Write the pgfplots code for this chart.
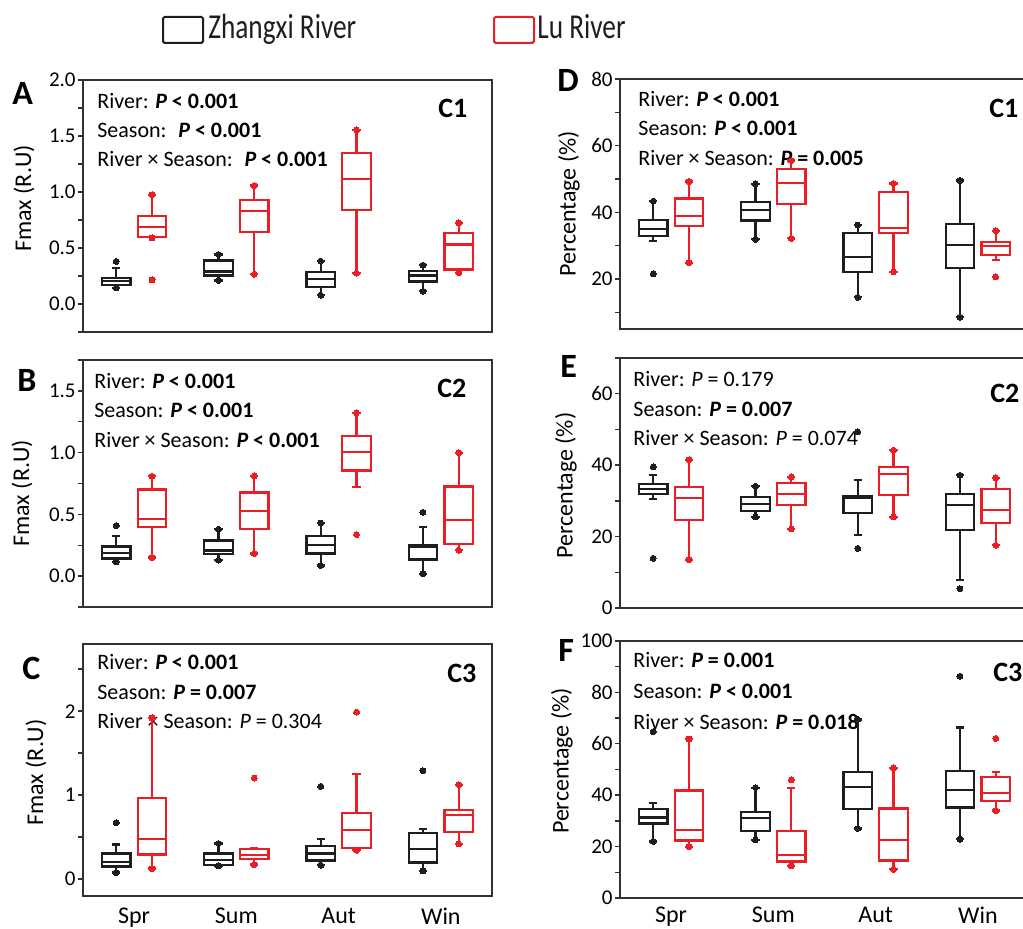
\documentclass[border=0pt]{standalone}
\usepackage{pgfplots}
\pgfplotsset{compat=1.18}
\usepgfplotslibrary{statistics}
\usepackage{fontspec}
\setmainfont{Carlito}
\definecolor{lured}{RGB}{235,30,37}
\definecolor{zxblack}{RGB}{30,30,30}
\definecolor{framec}{RGB}{50,50,50}
\newcommand{\bx}[8]{\addplot[draw=#1, line width=1.1pt, mark=*, mark size=1.5pt, mark options={fill=#1,draw=#1,line width=0pt,solid}, boxplot prepared={draw direction=y, draw position=#2, lower whisker=#3, lower quartile=#4, median=#5, upper quartile=#6, upper whisker=#7}] coordinates {#8};}
\pgfplotsset{
 mybox/.style={
  scale only axis, width=204.5pt, anchor=south west,
  xmin=0.5, xmax=4.5,
  axis line style={framec, line width=0.7pt},
  ytick pos=left, tick align=outside, major tick length=2.5pt, minor tick length=2.5pt,
  tick style={framec, line width=0.7pt},
  /pgf/number format/assume math mode=true,
  yticklabel style={font=\fontsize{10.5}{12}\selectfont, inner sep=1pt},
  xticklabel style={font=\fontsize{12}{14}\selectfont, inner sep=0pt, yshift=-3.5pt},
  ylabel style={font=\fontsize{12}{14}\selectfont, anchor=center},
  boxplot/draw direction=y,
  boxplot/box extend=0.28, boxplot/whisker extend=0.08,
  xtick=\empty,
 },
 bottomx/.style={xtick={1,2,3,4}, xticklabels={Spr,Sum,Aut,Win}, xtick style={draw=none}},
}
\tikzset{ptxt/.style={anchor=base west, inner sep=0pt, font=\fontsize{11}{13}\selectfont},
 ctxt/.style={anchor=base west, inner sep=0pt, font=\bfseries\fontsize{14}{16}\selectfont},
 ltxt/.style={anchor=base west, inner sep=0pt, font=\bfseries\fontsize{17}{19}\selectfont}}
\begin{document}
\begin{tikzpicture}
\useasboundingbox (0,0) rectangle (511.5pt,464.5pt);
% legend
\draw[zxblack, line width=1pt, rounded corners=0.8pt] (81.5pt,443pt) rectangle (101.5pt,456pt);
\node[anchor=base west, inner sep=0pt, font=\fontsize{17.5}{20}\selectfont, xscale=0.78, text=zxblack] at (104pt,445pt) {Zhangxi River};
\draw[lured, line width=1pt, rounded corners=0.8pt] (247pt,443pt) rectangle (267pt,456pt);
\node[anchor=base west, inner sep=0pt, font=\fontsize{17.5}{20}\selectfont, xscale=0.78, text=zxblack] at (268.5pt,445pt) {Lu River};
% panel letters
\node[ltxt] at (6pt,412pt) {A};
\node[ltxt] at (8.5pt,268.5pt) {B};
\node[ltxt] at (11pt,124.5pt) {C};
\node[ltxt] at (278.5pt,418.5pt) {D};
\node[ltxt] at (280pt,275.5pt) {E};
\node[ltxt] at (279pt,133.5pt) {F};
% C labels
\node[ctxt] at (219pt,405.5pt) {C1};
\node[ctxt] at (218.5pt,265.5pt) {C2};
\node[ctxt] at (223.5pt,123pt) {C3};
\node[ctxt] at (494.5pt,405.5pt) {C1};
\node[ctxt] at (495pt,263pt) {C2};
\node[ctxt] at (496.5pt,123.5pt) {C3};
% stats A
\node[ptxt] at (48.5pt,410pt) {River: \textbf{\textit{P} < 0.001}};
\node[ptxt] at (48.5pt,395.5pt) {Season:\hspace{2.5pt} \textbf{\textit{P} < 0.001}};
\node[ptxt] at (48.5pt,381pt) {River × Season:\hspace{2.5pt} \textbf{\textit{P} < 0.001}};
% stats B
\node[ptxt] at (47pt,270pt) {River: \textbf{\textit{P} < 0.001}};
\node[ptxt] at (47pt,255.5pt) {Season: \textbf{\textit{P} < 0.001}};
\node[ptxt] at (47pt,240.5pt) {River × Season: \textbf{\textit{P} < 0.001}};
% stats C
\node[ptxt] at (48.5pt,129.5pt) {River: \textbf{\textit{P} < 0.001}};
\node[ptxt] at (48.5pt,114.5pt) {Season: \textbf{\textit{P} = 0.007}};
\node[ptxt] at (48.5pt,100pt) {River × Season: \textit{P} = 0.304};
% stats D
\node[ptxt] at (319pt,411pt) {River: \textbf{\textit{P} < 0.001}};
\node[ptxt] at (319pt,396.5pt) {Season: \textbf{\textit{P} < 0.001}};
\node[ptxt] at (319pt,381.5pt) {River × Season: \textbf{\textit{P} = 0.005}};
% stats E
\node[ptxt] at (316.5pt,271pt) {River: \textit{P} = 0.179};
\node[ptxt] at (316.5pt,256pt) {Season: \textbf{\textit{P} = 0.007}};
\node[ptxt] at (316.5pt,241.5pt) {River × Season: \textit{P} = 0.074};
% stats F
\node[ptxt] at (316.5pt,130.5pt) {River: \textbf{\textit{P} = 0.001}};
\node[ptxt] at (316.5pt,115pt) {Season: \textbf{\textit{P} < 0.001}};
\node[ptxt] at (316.5pt,99.5pt) {River × Season: \textbf{\textit{P} = 0.018}};

% ---------- A ----------
\begin{axis}[mybox, at={(41.5pt,298.5pt)}, height=126pt,
 ymin=-0.25, ymax=2.0, ytick={0,0.5,1,1.5,2}, minor ytick={-0.25,0.25,0.75,1.25,1.75},
 yticklabel style={/pgf/number format/.cd, fixed, fixed zerofill, precision=1},
 ylabel={Fmax (R.U)}, ylabel style={at={(axis description cs:-0.144,0.53)}}]
\bx{zxblack}{0.825}{0.143}{0.173}{0.203}{0.233}{0.32}{(0,0.38)(0,0.143)}
\bx{lured}{1.175}{0.597}{0.597}{0.684}{0.788}{0.976}{(0,0.976)(0,0.59)(0,0.215)}
\bx{zxblack}{1.825}{0.209}{0.254}{0.29}{0.388}{0.442}{(0,0.442)(0,0.209)}
\bx{lured}{2.175}{0.266}{0.642}{0.83}{0.931}{1.057}{(0,1.057)(0,0.266)}
\bx{zxblack}{2.825}{0.078}{0.149}{0.224}{0.287}{0.382}{(0,0.382)(0,0.078)}
\bx{lured}{3.175}{0.275}{0.836}{1.119}{1.346}{1.555}{(0,1.555)(0,0.275)}
\bx{zxblack}{3.825}{0.113}{0.2}{0.254}{0.293}{0.346}{(0,0.346)(0,0.113)}
\bx{lured}{4.175}{0.307}{0.307}{0.531}{0.633}{0.725}{(0,0.725)(0,0.28)}
\end{axis}
% ---------- B ----------
\begin{axis}[mybox, at={(41.5pt,161pt)}, height=123.5pt,
 ymin=-0.25, ymax=1.75, ytick={0,0.5,1,1.5}, minor ytick={-0.25,0.25,0.75,1.25,1.75},
 yticklabel style={/pgf/number format/.cd, fixed, fixed zerofill, precision=1},
 ylabel={Fmax (R.U)}, ylabel style={at={(axis description cs:-0.149,0.46)}}]
\bx{zxblack}{0.825}{0.116}{0.142}{0.188}{0.239}{0.328}{(0,0.409)(0,0.116)}
\bx{lured}{1.175}{0.151}{0.398}{0.465}{0.702}{0.809}{(0,0.809)(0,0.151)}
\bx{zxblack}{1.825}{0.129}{0.18}{0.207}{0.288}{0.379}{(0,0.379)(0,0.129)}
\bx{lured}{2.175}{0.183}{0.384}{0.53}{0.677}{0.812}{(0,0.812)(0,0.183)}
\bx{zxblack}{2.825}{0.086}{0.183}{0.25}{0.328}{0.43}{(0,0.43)(0,0.086)}
\bx{lured}{3.175}{0.72}{0.855}{1.003}{1.134}{1.323}{(0,1.323)(0,0.336)}
\bx{zxblack}{3.825}{0.019}{0.134}{0.237}{0.255}{0.398}{(0,0.516)(0,0.019)}
\bx{lured}{4.175}{0.21}{0.263}{0.452}{0.726}{1.0}{(0,1.0)(0,0.21)}
\end{axis}
% ---------- C ----------
\begin{axis}[mybox, bottomx, at={(41.5pt,16.5pt)}, height=126pt,
 ymin=-0.2, ymax=2.8, ytick={0,1,2}, minor ytick={0.5,1.5,2.5},
 ylabel={Fmax (R.U)}, ylabel style={at={(axis description cs:-0.115,0.49)}}]
\bx{zxblack}{0.825}{0.079}{0.15}{0.206}{0.305}{0.412}{(0,0.673)(0,0.079)}
\bx{lured}{1.175}{0.127}{0.293}{0.483}{0.962}{1.92}{(0,1.92)(0,0.127)}
\bx{zxblack}{1.825}{0.158}{0.166}{0.23}{0.305}{0.424}{(0,0.424)(0,0.158)}
\bx{lured}{2.175}{0.174}{0.242}{0.285}{0.356}{0.372}{(0,1.204)(0,0.174)}
\bx{zxblack}{2.825}{0.166}{0.222}{0.305}{0.392}{0.475}{(0,1.105)(0,0.166)}
\bx{lured}{3.175}{0.345}{0.372}{0.59}{0.792}{1.248}{(0,1.988)(0,0.345)}
\bx{zxblack}{3.825}{0.099}{0.198}{0.364}{0.55}{0.602}{(0,1.291)(0,0.099)}
\bx{lured}{4.175}{0.42}{0.562}{0.76}{0.824}{1.125}{(0,1.125)(0,0.42)}
\end{axis}
% ---------- D ----------
\begin{axis}[mybox, at={(310pt,300pt)}, height=125pt,
 ymin=5, ymax=80, ytick={20,40,60,80}, minor ytick={10,30,50,70},
 ylabel={Percentage (\%)}, ylabel style={at={(axis description cs:-0.125,0.5)}}]
\bx{zxblack}{0.825}{31.28}{32.78}{35.08}{37.67}{43.36}{(0,43.36)(0,21.5)}
\bx{lured}{1.175}{24.9}{35.78}{38.97}{44.16}{49.26}{(0,49.26)(0,24.9)}
\bx{zxblack}{1.825}{31.88}{37.57}{40.67}{43.17}{48.56}{(0,48.56)(0,31.88)}
\bx{lured}{2.175}{32.18}{42.57}{48.86}{53.05}{55.55}{(0,55.55)(0,32.18)}
\bx{zxblack}{2.825}{14.5}{22.1}{26.6}{33.88}{36.18}{(0,36.18)(0,14.5)}
\bx{lured}{3.175}{22.2}{33.68}{35.38}{46.16}{48.66}{(0,48.66)(0,22.2)}
\bx{zxblack}{3.825}{8.5}{23.4}{30.28}{36.48}{49.56}{(0,49.56)(0,8.5)}
\bx{lured}{4.175}{25.6}{27.29}{29.88}{31.18}{34.48}{(0,34.48)(0,20.6)}
\end{axis}
% ---------- E ----------
\begin{axis}[mybox, at={(310pt,160.5pt)}, height=125pt,
 ymin=0, ymax=70, ytick={0,20,40,60}, minor ytick={10,30,50,70},
 ylabel={Percentage (\%)}, ylabel style={at={(axis description cs:-0.132,0.49)}}]
\bx{zxblack}{0.825}{30.43}{31.83}{33.41}{34.72}{37.15}{(0,39.48)(0,13.9)}
\bx{lured}{1.175}{13.5}{24.64}{30.8}{33.97}{41.5}{(0,41.5)(0,13.5)}
\bx{zxblack}{1.825}{25.48}{27.16}{29.03}{31.08}{34.07}{(0,34.07)(0,25.48)}
\bx{lured}{2.175}{22.12}{28.84}{31.92}{34.9}{36.68}{(0,36.68)(0,22.12)}
\bx{zxblack}{2.825}{20.5}{26.6}{30.9}{31.36}{35.75}{(0,49.28)(0,16.7)}
\bx{lured}{3.175}{25.48}{31.64}{37.43}{39.57}{44.15}{(0,44.15)(0,25.48)}
\bx{zxblack}{3.825}{7.93}{21.75}{28.75}{32.0}{37.15}{(0,37.15)(0,5.41)}
\bx{lured}{4.175}{17.55}{23.7}{27.53}{33.32}{36.4}{(0,36.4)(0,17.55)}
\end{axis}
% ---------- F ----------
\begin{axis}[mybox, bottomx, at={(310pt,15.5pt)}, height=128.5pt,
 xticklabel style={yshift=1.5pt},
 ymin=0, ymax=100, ytick={0,20,40,60,80,100}, minor ytick={10,30,50,70,90},
 ylabel={Percentage (\%)}, ylabel style={at={(axis description cs:-0.142,0.533)}}]
\bx{zxblack}{0.825}{22.0}{28.98}{31.31}{34.54}{37.1}{(0,64.7)(0,22.0)}
\bx{lured}{1.175}{19.92}{22.38}{26.52}{41.79}{61.84}{(0,61.84)(0,19.92)}
\bx{zxblack}{1.825}{22.64}{26.13}{31.05}{33.5}{42.95}{(0,42.95)(0,22.64)}
\bx{lured}{2.175}{12.55}{14.23}{16.69}{26.13}{42.69}{(0,45.93)(0,12.55)}
\bx{zxblack}{2.825}{27.04}{34.67}{43.08}{48.9}{69.47}{(0,69.47)(0,27.04)}
\bx{lured}{3.175}{11.13}{14.62}{22.64}{34.8}{50.58}{(0,50.58)(0,11.13)}
\bx{zxblack}{3.825}{22.9}{35.19}{41.91}{49.42}{66.36}{(0,86.29)(0,22.9)}
\bx{lured}{4.175}{34.02}{37.77}{40.88}{46.96}{49.03}{(0,62.1)(0,34.02)}
\end{axis}
\end{tikzpicture}
\end{document}
